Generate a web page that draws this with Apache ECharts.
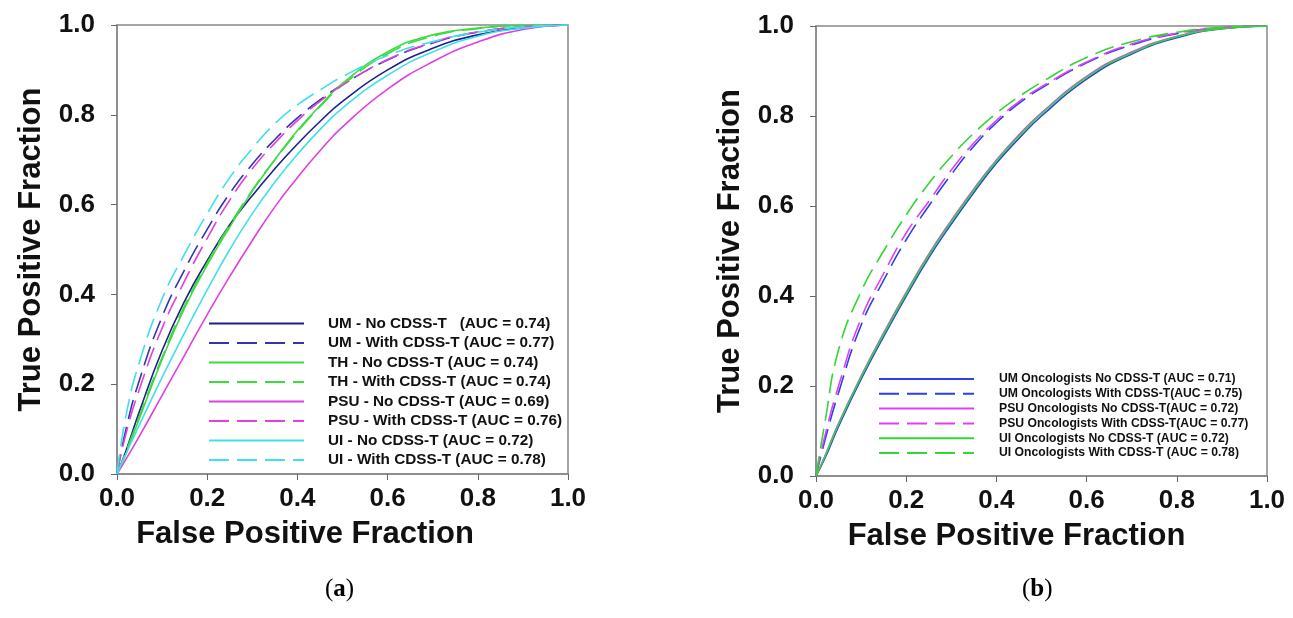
<!DOCTYPE html>
<html>
<head>
<meta charset="utf-8">
<script src="https://cdn.jsdelivr.net/npm/echarts@6/dist/echarts.min.js"></script>
<style>html,body{margin:0;padding:0;background:#fff;}#c{width:1293px;height:618px;}</style>
</head>
<body>
<div id="c"></div>
<script>
// shared false positive fraction grid
const fpr = [0, 0.02, 0.05, 0.1, 0.15, 0.2, 0.25, 0.3, 0.35, 0.4, 0.45, 0.5, 0.6, 0.7, 0.8, 0.9, 1];
const tickLabels = ['0.0', '0.2', '0.4', '0.6', '0.8', '1.0'];

// panel (a)
const namesA = [
  'UM - No CDSS-T   (AUC = 0.74)',
  'UM - With CDSS-T (AUC = 0.77)',
  'TH - No CDSS-T (AUC = 0.74)',
  'TH - With CDSS-T (AUC = 0.74)',
  'PSU - No CDSS-T (AUC = 0.69)',
  'PSU - With CDSS-T (AUC = 0.76)',
  'UI - No CDSS-T (AUC = 0.72)',
  'UI - With CDSS-T (AUC = 0.78)'
];
const aUmNo    = [0, 0.052, 0.14, 0.275, 0.385, 0.475, 0.555, 0.62, 0.68, 0.735, 0.785, 0.83, 0.90, 0.948, 0.978, 0.994, 1];
const aUmWith  = [0, 0.10, 0.21, 0.35, 0.455, 0.545, 0.625, 0.69, 0.745, 0.793, 0.833, 0.867, 0.922, 0.96, 0.984, 0.996, 1];
const aThNo    = [0, 0.045, 0.125, 0.255, 0.37, 0.465, 0.55, 0.63, 0.70, 0.765, 0.82, 0.87, 0.94, 0.978, 0.993, 0.999, 1];
const aThWith  = [0, 0.05, 0.13, 0.26, 0.375, 0.47, 0.555, 0.632, 0.70, 0.762, 0.818, 0.866, 0.936, 0.975, 0.992, 0.999, 1];
const aPsuNo   = [0, 0.033, 0.085, 0.175, 0.265, 0.355, 0.44, 0.52, 0.595, 0.66, 0.72, 0.773, 0.857, 0.918, 0.962, 0.99, 1];
const aPsuWith = [0, 0.09, 0.19, 0.325, 0.43, 0.525, 0.61, 0.68, 0.737, 0.787, 0.83, 0.866, 0.923, 0.961, 0.985, 0.996, 1];
const aUiNo    = [0, 0.045, 0.11, 0.215, 0.315, 0.41, 0.50, 0.58, 0.65, 0.712, 0.767, 0.815, 0.888, 0.94, 0.975, 0.993, 1];
const aUiWith  = [0, 0.13, 0.25, 0.39, 0.49, 0.58, 0.66, 0.725, 0.78, 0.822, 0.855, 0.885, 0.932, 0.963, 0.984, 0.996, 1];

// panel (b)
const namesB = [
  'UM Oncologists No CDSS-T (AUC = 0.71)',
  'UM Oncologists With CDSS-T(AUC = 0.75)',
  'PSU Oncologists No CDSS-T(AUC = 0.72)',
  'PSU Oncologists With CDSS-T(AUC = 0.77)',
  'UI Oncologists No CDSS-T (AUC = 0.72)',
  'UI Oncologists With CDSS-T (AUC = 0.78)'
];
const bUmNo    = [0, 0.04, 0.11, 0.215, 0.31, 0.40, 0.485, 0.56, 0.63, 0.695, 0.75, 0.80, 0.882, 0.938, 0.974, 0.994, 1];
const bUmWith  = [0, 0.08, 0.185, 0.335, 0.435, 0.525, 0.60, 0.67, 0.733, 0.785, 0.828, 0.862, 0.918, 0.958, 0.983, 0.996, 1];
const bPsuNo   = [0, 0.045, 0.117, 0.222, 0.318, 0.408, 0.493, 0.568, 0.638, 0.702, 0.758, 0.807, 0.888, 0.942, 0.977, 0.995, 1];
const bPsuWith = [0, 0.09, 0.20, 0.35, 0.45, 0.54, 0.61, 0.68, 0.74, 0.79, 0.832, 0.865, 0.92, 0.96, 0.984, 0.996, 1];
const bUiNo    = [0, 0.044, 0.115, 0.22, 0.315, 0.405, 0.49, 0.565, 0.635, 0.70, 0.755, 0.805, 0.886, 0.94, 0.976, 0.994, 1];
const bUiWith  = [0, 0.12, 0.28, 0.41, 0.50, 0.58, 0.65, 0.71, 0.762, 0.806, 0.843, 0.875, 0.93, 0.965, 0.986, 0.997, 1];

const seriesA = [aUmNo, aUmWith, aThNo, aThWith, aPsuNo, aPsuWith, aUiNo, aUiWith];
const colorsA = ['#1f1f8f', '#3434b0', '#3ddc3d', '#3ddc3d', '#e040e0', '#e040e0', '#40e0e8', '#40e0e8'];
const seriesB = [bUmNo, bUmWith, bPsuNo, bPsuWith, bUiNo, bUiWith];
const colorsB = ['#2b3ff0', '#2b3ff0', '#e040f0', '#e040f0', '#33d633', '#33d633'];

const DASH = [20, 8];
function mk(names, arrs, colors, idx) {
  return arrs.map((arr, i) => ({
    type: 'line', name: names[i], xAxisIndex: idx, yAxisIndex: idx,
    data: fpr.map((x, k) => [x, arr[k]]),
    smooth: 0.5, symbol: 'none', showSymbol: false,
    lineStyle: { color: colors[i], width: 1.6, type: (i % 2 === 1) ? DASH : 'solid' },
    itemStyle: { color: colors[i] },
    emphasis: { disabled: true }
  }));
}

const labelFont = { fontFamily: 'Liberation Sans', fontWeight: 'bold', fontSize: 26, color: '#111' };
function nameFont(shift) {
  return { fontFamily: 'Liberation Sans', fontWeight: 'bold', fontSize: 31, color: '#111', padding: [0, shift, 0, 0] };
}
function xAx(i, shift) {
  return {
    type: 'value', gridIndex: i, min: 0, max: 1, interval: 0.2,
    axisLine: { show: true, onZero: false, lineStyle: { color: '#888', width: 1.5 } },
    axisTick: { show: true, inside: false, length: 6, lineStyle: { color: '#666', width: 1 } },
    splitLine: { show: false },
    axisLabel: Object.assign({ margin: 12, formatter: v => tickLabels[Math.round(v / 0.2)] }, labelFont),
    name: 'False Positive Fraction', nameLocation: 'middle', nameGap: 45, nameTextStyle: nameFont(shift)
  };
}
function yAx(i) {
  return {
    type: 'value', gridIndex: i, min: 0, max: 1, interval: 0.2,
    axisLine: { show: true, onZero: false, lineStyle: { color: '#888', width: 1.5 } },
    axisTick: { show: true, inside: false, length: 6, lineStyle: { color: '#666', width: 1 } },
    splitLine: { show: false },
    axisLabel: Object.assign({ margin: 22, formatter: v => tickLabels[Math.round(v / 0.2)] }, labelFont),
    name: 'True Positive Fraction', nameLocation: 'middle', nameRotate: 90, nameGap: 70, nameTextStyle: nameFont(0)
  };
}

const capRich = {
  n: { fontFamily: 'Liberation Serif', fontSize: 25, color: '#111' },
  b: { fontFamily: 'Liberation Serif', fontSize: 25, fontWeight: 'bold', color: '#111' }
};

const chart = echarts.init(document.getElementById('c'), null, { renderer: 'canvas' });
chart.setOption({
  animation: false,
  backgroundColor: '#ffffff',
  grid: [
    { left: 117, top: 25, width: 451, height: 449, show: true, borderColor: '#888', borderWidth: 1.5, containLabel: false },
    { left: 816, top: 26, width: 451, height: 450, show: true, borderColor: '#888', borderWidth: 1.5, containLabel: false }
  ],
  xAxis: [xAx(0, 75), xAx(1, 50)],
  yAxis: [yAx(0), yAx(1)],
  legend: [
    {
      data: namesA, orient: 'vertical', left: 208, top: 316, padding: 0,
      itemWidth: 95, itemHeight: 14, itemGap: 4.5, selectedMode: false,
      itemStyle: { opacity: 0 },
      textStyle: { fontFamily: 'Liberation Sans', fontWeight: 'bold', fontSize: 15.3, color: '#111', padding: [0, 0, 0, 19] }
    },
    {
      data: namesB, orient: 'vertical', left: 878, top: 373, padding: 0,
      itemWidth: 95, itemHeight: 12, itemGap: 2.8, selectedMode: false,
      itemStyle: { opacity: 0 },
      textStyle: { fontFamily: 'Liberation Sans', fontWeight: 'bold', fontSize: 12.2, color: '#111', padding: [0, 0, 0, 20] }
    }
  ],
  graphic: [
    { type: 'text', left: 325, top: 577, style: { text: '{n|(}{b|a}{n|)}', rich: capRich } },
    { type: 'text', left: 1022, top: 577, style: { text: '{n|(}{b|b}{n|)}', rich: capRich } }
  ],
  series: mk(namesA, seriesA, colorsA, 0).concat(mk(namesB, seriesB, colorsB, 1))
});
</script>
</body>
</html>
